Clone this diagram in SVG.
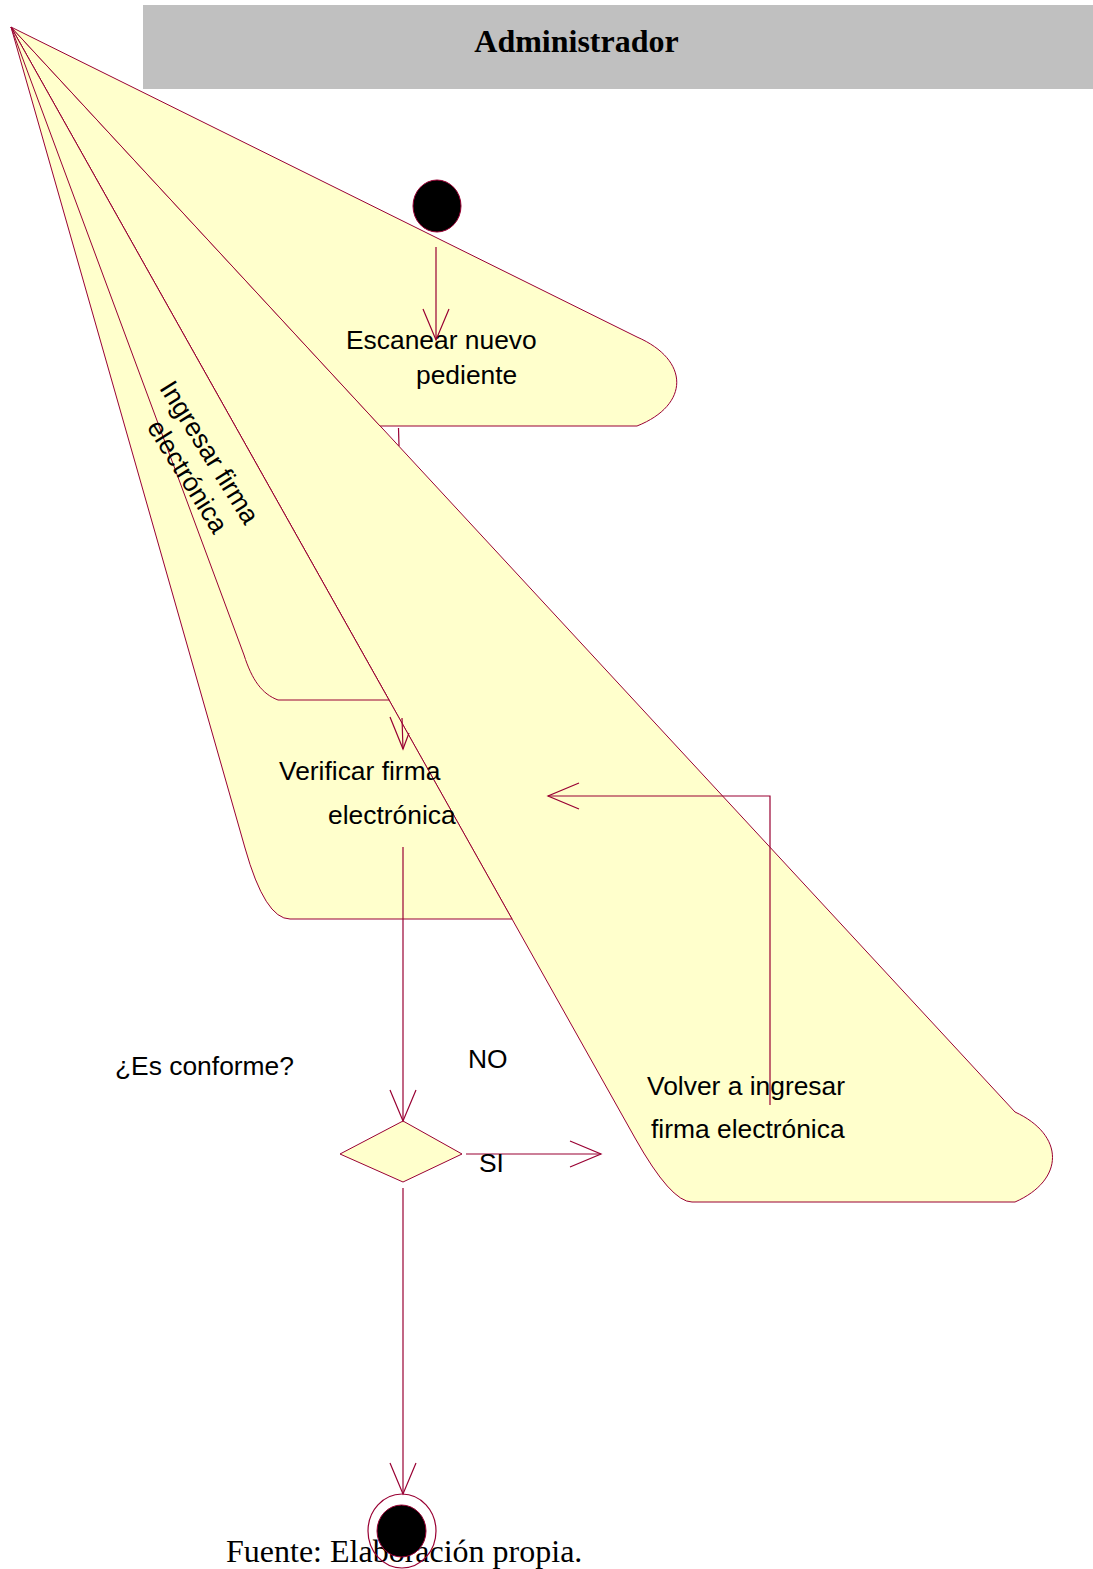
<svg xmlns="http://www.w3.org/2000/svg" width="1093" height="1569" viewBox="0 0 1093 1569">
<style>
.st{fill:#FFFFCC;stroke:#990033;stroke-width:1}
.ln{fill:none;stroke:#990033;stroke-width:1.2}
.lbl{font-family:"Liberation Sans",Arial,sans-serif;font-size:26.4px;fill:#000}
.ttl{font-family:"Liberation Serif","Times New Roman",serif;font-weight:bold;font-size:32px;fill:#000}
.src{font-family:"Liberation Serif","Times New Roman",serif;font-size:32px;fill:#000}
</style>
<defs>
<marker id="ah" markerUnits="userSpaceOnUse" markerWidth="40" markerHeight="32" refX="32" refY="14" orient="auto">
<path d="M1,1 L32,14 L1,27" fill="none" stroke="#990033" stroke-width="1.2"/>
</marker>
</defs>
<rect width="1093" height="1569" fill="#FFFFFF"/>
<g id="carril">
<rect x="143" y="5" width="950" height="84" fill="#C0C0C0"/>
<text class="ttl" x="576.5" y="52" text-anchor="middle">Administrador</text>
</g>
<g id="volver">
<path class="st" d="M11,27 L1015,1112 C1065,1135 1065,1180 1015,1202 L692,1202 Q671,1202 635,1138 Z"/>
<text class="lbl" x="647" y="1095">Volver a ingresar</text>
<text class="lbl" x="651" y="1138">firma electrónica</text>
</g>
<g id="escanear">
<path class="st" d="M11,27 L637,337 C690,360 690,405 637,426 L380,426 Z"/>
<text class="lbl" x="346" y="349">Escanear nuevo</text>
<text class="lbl" x="416" y="384">pediente</text>
</g>
<g id="verificar">
<path class="st" d="M11,27 L245,848 Q265,919 290,919 L512,919 Z"/>
<text class="lbl" x="279" y="780">Verificar firma</text>
<text class="lbl" x="328" y="824">electrónica</text>
</g>
<g id="ingresar">
<path class="st" d="M11,27 L244,655 C252,680 262,694 278,700 L389,700 Z"/>
<text class="lbl" text-anchor="middle" transform="translate(202,457) rotate(58)">Ingresar firma</text>
<text class="lbl" text-anchor="middle" transform="translate(180,481) rotate(58)">electrónica</text>
</g>
<g id="inicio">
<ellipse cx="437" cy="206" rx="24" ry="26" fill="#000" stroke="#990033" stroke-width="1"/>
</g>
<g id="decision">
<path class="st" d="M340,1154 L403,1121 L462,1154 L403,1182 Z"/>
<text class="lbl" x="115" y="1075">¿Es conforme?</text>
</g>
<text class="src" x="226" y="1562">Fuente: Elaboración propia.</text>
<g id="fin">
<ellipse cx="402" cy="1531" rx="34" ry="37" fill="none" stroke="#990033" stroke-width="1.2"/>
<ellipse cx="401.5" cy="1531" rx="24.5" ry="26" fill="#000" stroke="#990033" stroke-width="1"/>
</g>
<g id="conectores">
<line class="ln" x1="436" y1="247" x2="436" y2="340" marker-end="url(#ah)"/>
<line class="ln" x1="398.5" y1="428" x2="399" y2="446"/>
<line class="ln" x1="402" y1="718" x2="403" y2="749"/>
<polyline class="ln" points="390,717 403,749 409,733"/>
<line class="ln" x1="403" y1="847" x2="403" y2="1121" marker-end="url(#ah)"/>
<line class="ln" x1="466" y1="1154" x2="601" y2="1154" marker-end="url(#ah)"/>
<polyline class="ln" points="770,1105 770,796 548,796" marker-end="url(#ah)"/>
<line class="ln" x1="403" y1="1188" x2="403" y2="1494" marker-end="url(#ah)"/>
<text class="lbl" x="468" y="1068">NO</text>
<text class="lbl" x="479" y="1172">SI</text>
</g>
</svg>
